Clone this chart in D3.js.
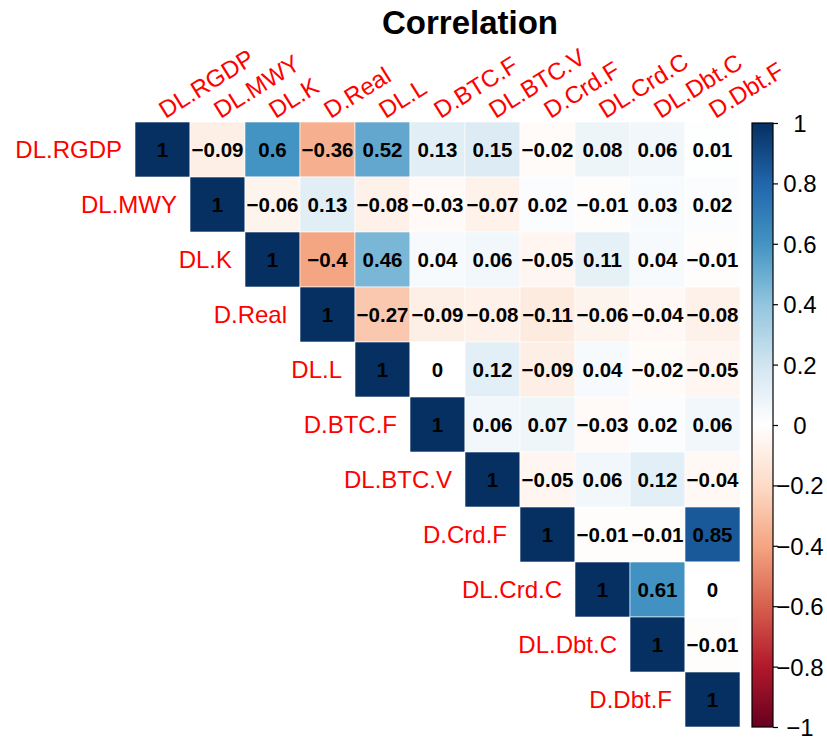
<!DOCTYPE html>
<html>
<head>
<meta charset="utf-8">
<script src="https://cdn.jsdelivr.net/npm/d3@7"></script>
<style>
  body { margin: 0; background: #fff; }
  svg { display: block; }
  text { font-family: "Liberation Sans", Arial, Helvetica, sans-serif; }
</style>
</head>
<body>
<svg id="chart" width="827" height="740"></svg>
<script>
// ---- Data ----
const variables = ["DL.RGDP","DL.MWY","DL.K","D.Real","DL.L","D.BTC.F","DL.BTC.V","D.Crd.F","DL.Crd.C","DL.Dbt.C","D.Dbt.F"];
// upper-triangle rows (from diagonal to the right)
const rowDLRGDP  = [1, -0.09, 0.6, -0.36, 0.52, 0.13, 0.15, -0.02, 0.08, 0.06, 0.01];
const rowDLMWY   = [1, -0.06, 0.13, -0.08, -0.03, -0.07, 0.02, -0.01, 0.03, 0.02];
const rowDLK     = [1, -0.4, 0.46, 0.04, 0.06, -0.05, 0.11, 0.04, -0.01];
const rowDReal   = [1, -0.27, -0.09, -0.08, -0.11, -0.06, -0.04, -0.08];
const rowDLL     = [1, 0, 0.12, -0.09, 0.04, -0.02, -0.05];
const rowDBTCF   = [1, 0.06, 0.07, -0.03, 0.02, 0.06];
const rowDLBTCV  = [1, -0.05, 0.06, 0.12, -0.04];
const rowDCrdF   = [1, -0.01, -0.01, 0.85];
const rowDLCrdC  = [1, 0.61, 0];
const rowDLDbtC  = [1, -0.01];
const rowDDbtF   = [1];
const rows = [rowDLRGDP,rowDLMWY,rowDLK,rowDReal,rowDLL,rowDBTCF,rowDLBTCV,rowDCrdF,rowDLCrdC,rowDLDbtC,rowDDbtF];
const legendTicks = [1, 0.8, 0.6, 0.4, 0.2, 0, -0.2, -0.4, -0.6, -0.8, -1];
const paletteColors = ["#67001F","#B2182B","#D6604D","#F4A582","#FDDBC7","#FFFFFF","#D1E5F0","#92C5DE","#4393C3","#2166AC","#053061"];
const title = "Correlation";

// ---- Build cells ----
const cells = [];
rows.forEach((r, i) => r.forEach((v, k) => cells.push({row: variables[i], col: variables[i + k], value: v})));

const svg = d3.select("#chart");
const x = d3.scaleBand().domain(variables).range([135, 740]);
const y = d3.scaleBand().domain(variables).range([122, 727]);
const color = d3.scaleLinear()
  .domain(d3.range(paletteColors.length).map(i => -1 + 2 * i / (paletteColors.length - 1)))
  .range(paletteColors)
  .interpolate(d3.interpolateRgb);
const fmt = v => (v < 0 ? "\u2212" : "") + Math.abs(v);

// title
svg.append("text")
  .attr("x", 470).attr("y", 34)
  .attr("text-anchor", "middle")
  .attr("font-size", 33).attr("font-weight", "bold")
  .text(title);

// cells
svg.append("g").selectAll("rect").data(cells).join("rect")
  .attr("x", d => x(d.col)).attr("y", d => y(d.row))
  .attr("width", x.bandwidth()).attr("height", y.bandwidth())
  .attr("fill", d => color(d.value))
  .attr("stroke", "#fff").attr("stroke-width", 0.6);

// values
svg.append("g").selectAll("text").data(cells).join("text")
  .attr("x", d => x(d.col) + x.bandwidth() / 2)
  .attr("y", d => y(d.row) + y.bandwidth() / 2)
  .attr("dy", "0.35em")
  .attr("text-anchor", "middle")
  .attr("font-size", 20.5).attr("font-weight", "bold")
  .attr("fill", "#000")
  .text(d => fmt(d.value));

// row labels
svg.append("g").selectAll("text").data(variables).join("text")
  .attr("x", d => x(d) - 13)
  .attr("y", d => y(d) + y.bandwidth() / 2)
  .attr("dy", "0.35em")
  .attr("text-anchor", "end")
  .attr("font-size", 24)
  .attr("fill", "#FF0000")
  .text(d => d);

// column labels
svg.append("g").selectAll("text").data(variables).join("text")
  .attr("transform", d => `translate(${x(d) + x.bandwidth() / 2 + 3},119) rotate(-32)`)
  .attr("text-anchor", "start")
  .attr("font-size", 24)
  .attr("fill", "#FF0000")
  .text(d => d);

// color legend
const ly = d3.scaleLinear().domain([-1, 1]).range([727, 123]);
const defs = svg.append("defs");
const grad = defs.append("linearGradient").attr("id", "cbar")
  .attr("x1", 0).attr("y1", 1).attr("x2", 0).attr("y2", 0);
d3.range(0, 201).forEach(i => {
  const t = i / 200;
  grad.append("stop").attr("offset", t).attr("stop-color", color(-1 + 2 * t));
});
svg.append("rect")
  .attr("x", 752).attr("y", ly(1))
  .attr("width", 21).attr("height", ly(-1) - ly(1))
  .attr("fill", "url(#cbar)")
  .attr("stroke", "#000").attr("stroke-width", 1.2);

const axis = d3.axisRight(ly).tickValues(legendTicks).tickSize(5).tickFormat(fmt);
const ag = svg.append("g").attr("transform", "translate(773,0)").call(axis);
ag.select(".domain").remove();
ag.selectAll(".tick line").attr("stroke", "#000").attr("stroke-width", 1.2);
ag.selectAll(".tick text")
  .attr("x", 27).attr("dy", "0.35em")
  .attr("text-anchor", "middle")
  .attr("font-size", 24)
  .attr("font-family", "'Liberation Sans', Arial, sans-serif")
  .attr("fill", "#000");
</script>
</body>
</html>
